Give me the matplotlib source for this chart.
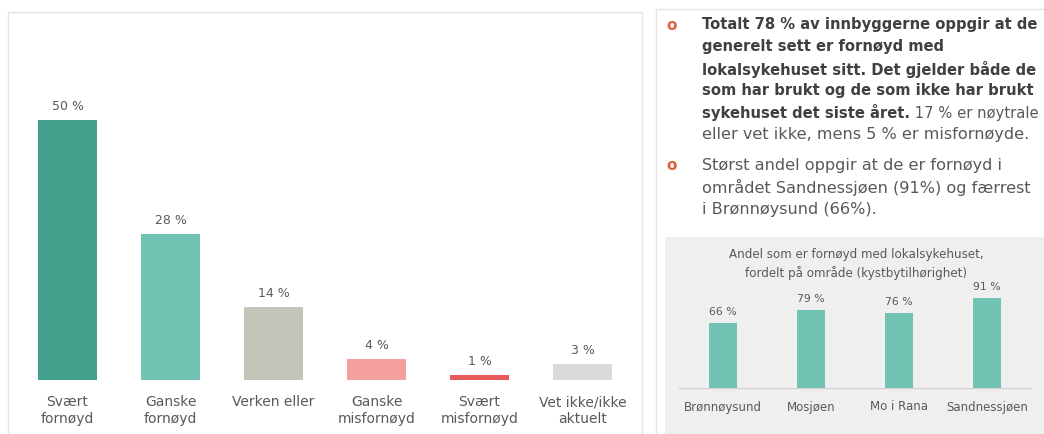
import matplotlib.pyplot as plt
from matplotlib.patches import Rectangle

W, H = 1044, 434

# main chart data
categories = ["Svært\nfornøyd", "Ganske\nfornøyd", "Verken eller",
              "Ganske\nmisfornøyd", "Svært\nmisfornøyd", "Vet ikke/ikke\naktuelt"]
values = [50, 28, 14, 4, 1, 3]
bar_colors = ["#44A08D", "#72C3B3", "#C4C4BA", "#F4A09C", "#E85A5A", "#D9D9D9"]

# inset chart data
areas = ["Brønnøysund", "Mosjøen", "Mo i Rana", "Sandnessjøen"]
area_values = [66, 79, 76, 91]
inset_title = "Andel som er fornøyd med lokalsykehuset,\nfordelt på område (kystbytilhørighet)"

plt.rcParams['font.family'] = ['DejaVu Sans']
grey = "#595959"
dark = "#404040"
fs_bold = 10.6
fs_norm = 11.6
line_h = 22
text_x = 702


def px(x, y):
    # pixel coords (from top-left) to figure fraction
    return x / W, 1 - y / H


def box(x0, y0, w, h):
    return [x0 / W, 1 - (y0 + h) / H, w / W, h / H]


fig = plt.figure(figsize=(W / 100, H / 100), dpi=100)

# panel frames
fig.patches.append(Rectangle(px(8, 440), 634 / W, 428 / H, transform=fig.transFigure,
                             fill=False, edgecolor="#E4E4E4", lw=1, zorder=-2))
fig.patches.append(Rectangle(px(656, 440), 400 / W, 431 / H, transform=fig.transFigure,
                             fill=False, edgecolor="#E4E4E4", lw=1, zorder=-2))
fig.patches.append(Rectangle(px(665, 440), 400 / W, 203 / H, transform=fig.transFigure,
                             facecolor="#EFEFEF", edgecolor="none", zorder=-1))

# main bar chart
ax = fig.add_axes(box(16, 12, 618, 368))
x = range(len(values))
bars = ax.bar(x, values, width=0.57, color=bar_colors)
ax.bar_label(bars, labels=[f"{v} %" for v in values], padding=5,
             fontsize=9, color=grey)
ax.set_xlim(-0.5, len(values) - 0.5)
ax.set_ylim(0, 368 / 5.2)
ax.set_xticks(list(x))
ax.set_xticklabels(categories, fontsize=10, color=grey, linespacing=1.25)
ax.tick_params(axis='x', length=0, pad=11)
ax.set_yticks([])
for s in ax.spines.values():
    s.set_visible(False)
ax.patch.set_alpha(0)

# bullet text
bullet_color = "#E0603F"
for by in (25, 165):
    fig.text(*px(672, by), "o", fontsize=11, fontweight='bold', color=bullet_color,
             ha='center', va='center')

bold_lines = ["Totalt 78 % av innbyggerne oppgir at de",
              "generelt sett er fornøyd med",
              "lokalsykehuset sitt. Det gjelder både de",
              "som har brukt og de som ikke har brukt"]
ly = 25
for line in bold_lines:
    fig.text(*px(text_x, ly), line, fontsize=fs_bold, fontweight='bold', color=dark,
             va='center', ha='left')
    ly += line_h
t_b = fig.text(*px(text_x, ly), "sykehuset det siste året.", fontsize=fs_bold,
               fontweight='bold', color=dark, va='center', ha='left')
fig.texts.append(plt.Annotation(" 17 % er nøytrale", xy=(1, 0), xycoords=t_b,
                                va='bottom', ha='left', fontsize=10.6, color=grey))
fig.texts[-1].figure = fig
ly += line_h
fig.text(*px(text_x, ly), "eller vet ikke, mens 5 % er misfornøyde.", fontsize=fs_norm,
         color=grey, va='center', ha='left')

normal_lines = ["Størst andel oppgir at de er fornøyd i",
                "området Sandnessjøen (91%) og færrest",
                "i Brønnøysund (66%)."]
ly = 165
for line in normal_lines:
    fig.text(*px(text_x, ly), line, fontsize=fs_norm, color=grey, va='center', ha='left')
    ly += line_h

# inset chart
ax2 = fig.add_axes(box(679, 279, 352, 109))
xi = range(len(area_values))
b2 = ax2.bar(xi, area_values, width=0.31, color="#72C3B3")
ax2.bar_label(b2, labels=[f"{v} %" for v in area_values], padding=4,
              fontsize=7.8, color=grey)
ax2.set_xlim(-0.5, len(area_values) - 0.5)
ax2.set_ylim(0, 109 / 0.99)
ax2.set_xticks(list(xi))
ax2.set_xticklabels(areas, fontsize=8.5, color=grey)
ax2.tick_params(axis='x', length=0, pad=9)
ax2.set_yticks([])
for name, s in ax2.spines.items():
    s.set_visible(name == 'bottom')
ax2.spines['bottom'].set_color("#D0D0D0")
ax2.patch.set_alpha(0)
fig.text(*px(856, 264), inset_title, fontsize=8.6, color=grey, ha='center',
         va='center', linespacing=1.4)

fig.savefig("out.png", dpi=100)
